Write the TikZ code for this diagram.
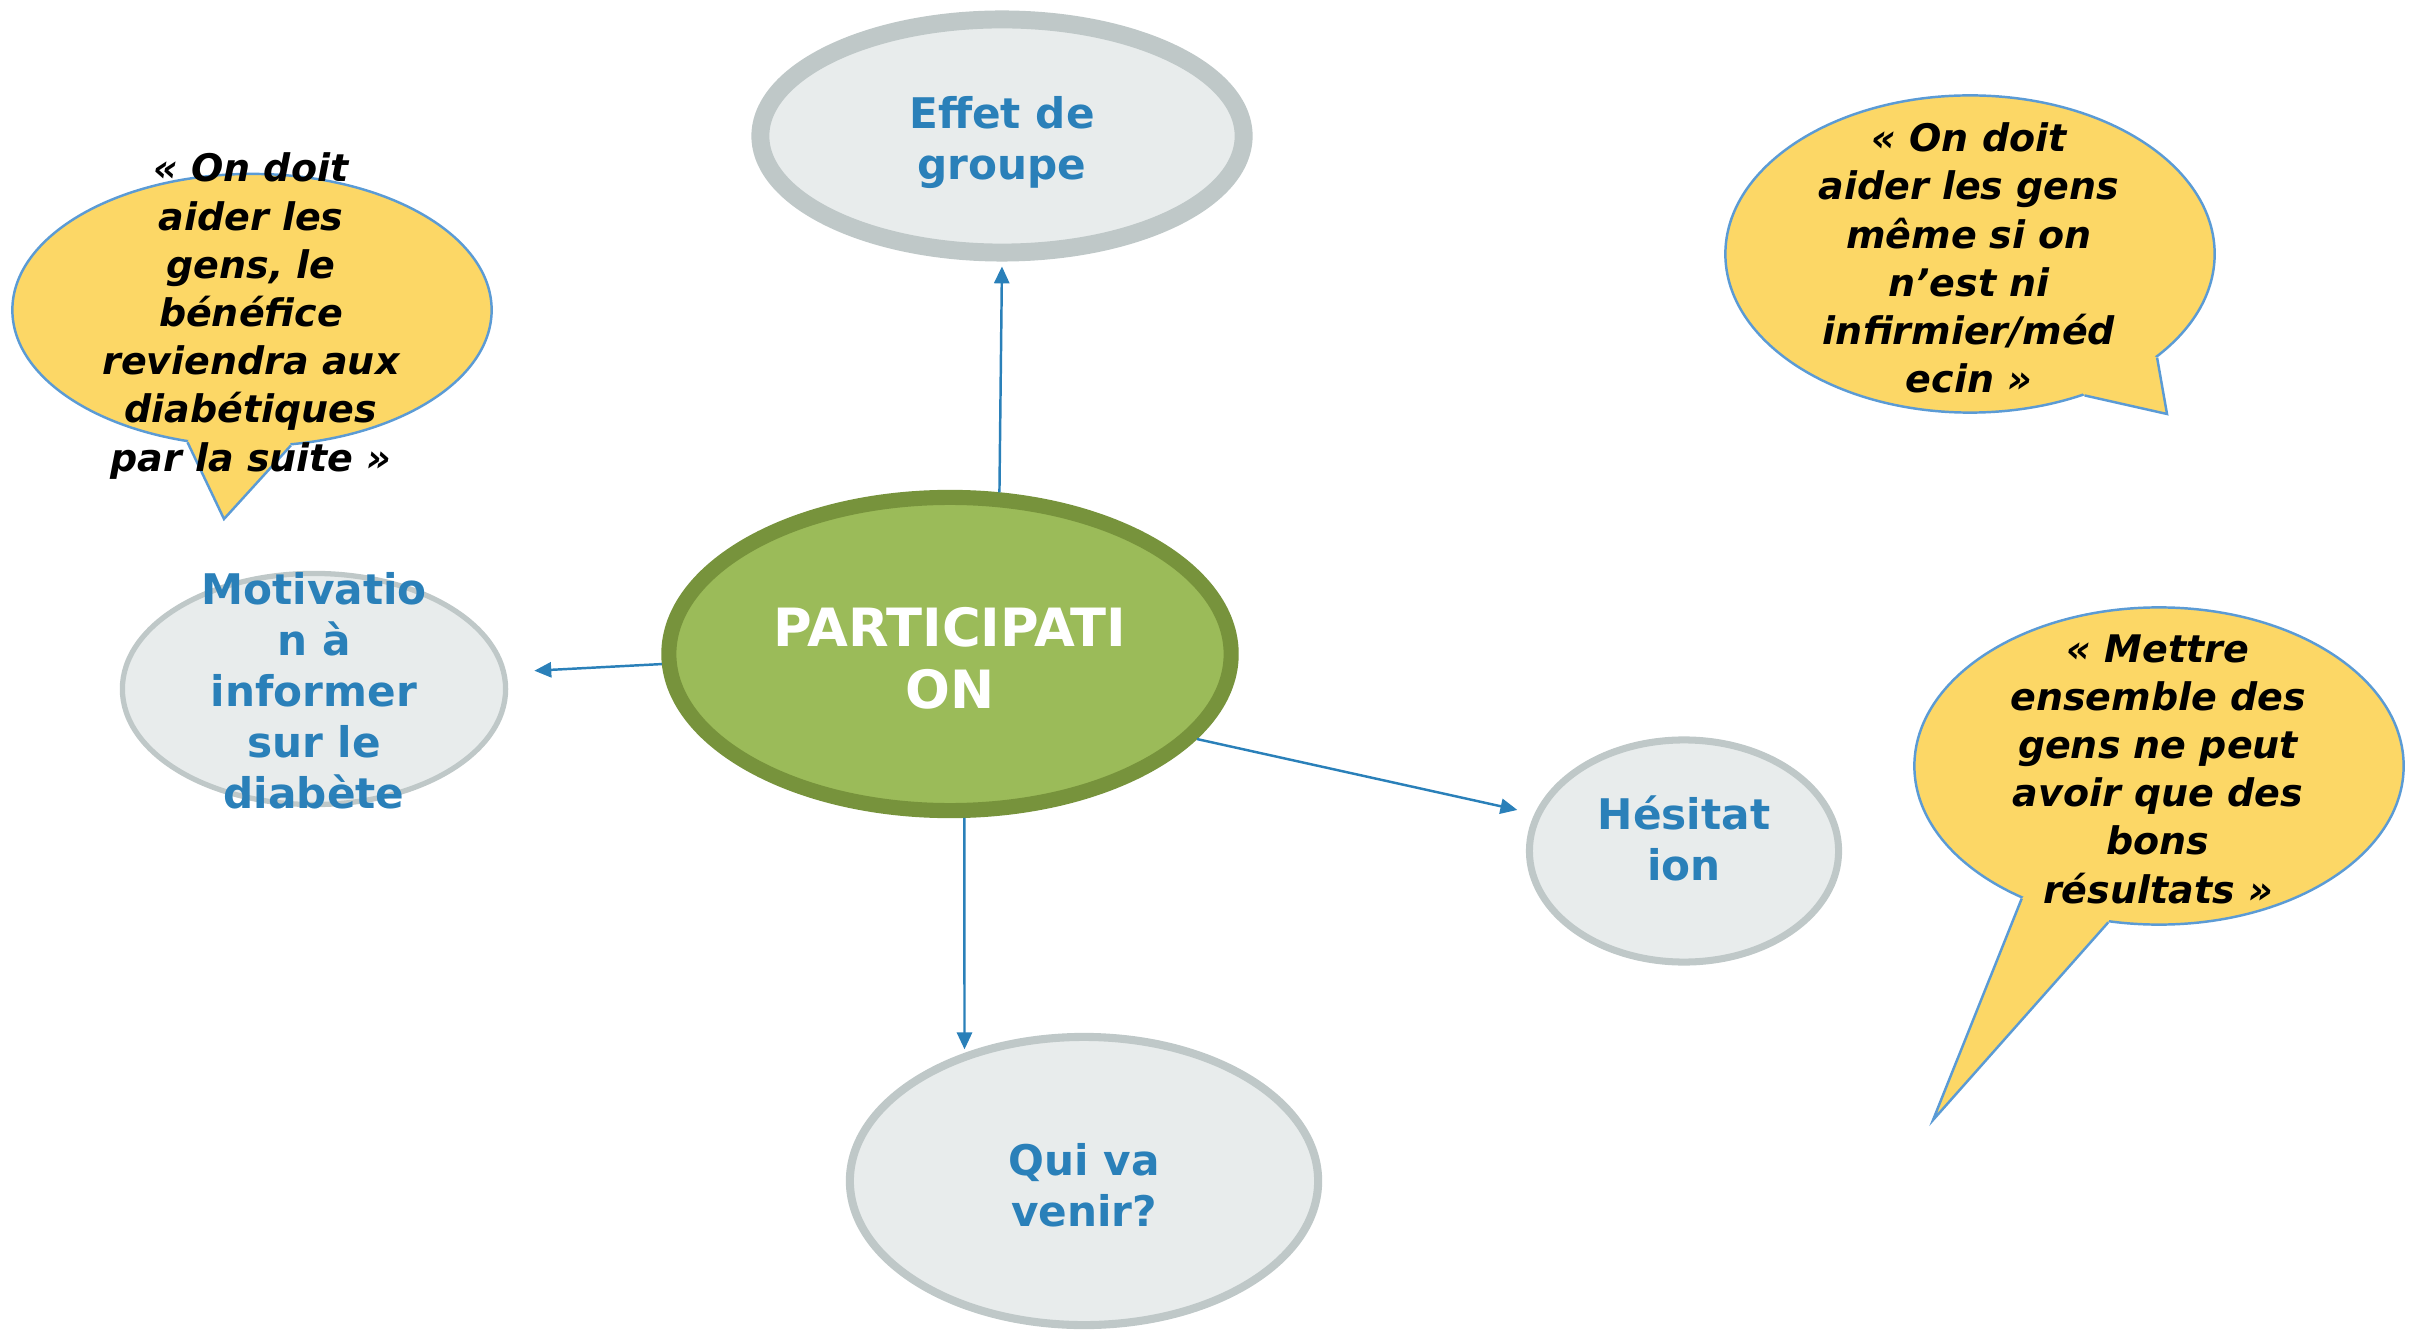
\documentclass[tikz,border=0pt]{standalone}
\usepackage{fontspec}
\setmainfont{DejaVu Sans}[BoldFont={DejaVu Sans Bold},ItalicFont={DejaVu Sans Oblique},BoldItalicFont={DejaVu Sans Bold Oblique}]
\usetikzlibrary{shapes.geometric,arrows.meta}

\definecolor{bordgris}{HTML}{BFC8C8}
\definecolor{fondgris}{HTML}{E8ECEC}
\definecolor{vertfonce}{HTML}{77933C}
\definecolor{vertclair}{HTML}{9BBB59}
\definecolor{bleutexte}{HTML}{2A80B9}
\definecolor{jaune}{HTML}{FCD766}
\definecolor{bleubord}{HTML}{5B9BD5}

\tikzstyle{idee}=[ellipse,draw=bordgris,fill=fondgris,inner sep=0pt]
\tikzstyle{noyau}=[ellipse,draw=vertfonce,fill=vertclair,line width=4.3pt,inner sep=0pt]
\tikzstyle{bulle}=[ellipse,draw=bleubord,fill=jaune,line width=0.7pt,inner sep=0pt]
\tikzstyle{etiquette}=[align=center,text=bleutexte,font=\bfseries\fontsize{12}{14.5}\selectfont]
\tikzstyle{citation}=[align=center,font=\bfseries\itshape\fontsize{10.8}{13.7}\selectfont]
\tikzstyle{lien}=[draw=bleutexte,line width=0.7pt,-{Triangle[length=4.8pt,width=4.3pt]}]

\begin{document}
\begin{tikzpicture}[x=0.01cm,y=-0.01cm]
	\useasboundingbox (0,0) rectangle (2425,1331);
	%Bulles
	\node[bulle,minimum width=4.79cm,minimum height=2.72cm] (bulleG) at (252,310) {};
	\node[bulle,minimum width=4.89cm,minimum height=3.17cm] (bulleH) at (1970,254) {};
	\node[bulle,minimum width=4.89cm,minimum height=3.17cm] (bulleB) at (2159,766) {};
	\coordinate (pointeG) at (224,519);
	\coordinate (pointeH) at (2167,414);
	\coordinate (pointeB) at (1933,1120);
	\foreach \b/\p/\a/\c in {bulleG/pointeG/244/286, bulleH/pointeH/309/331, bulleB/pointeB/224/252}
	{
		\fill[jaune] (\b.\a) -- (\p) -- (\b.\c) -- (\b.center) -- cycle;
		\draw[bleubord,line width=0.7pt] (\b.\a) -- (\p) -- (\b.\c);
	}
	%Idees
	\node[idee,line width=5.1pt,minimum width=4.83cm,minimum height=2.33cm] (effet) at (1002,136) {};
	\node[idee,line width=1.5pt,minimum width=3.83cm,minimum height=2.31cm] (mot) at (314,689) {};
	\node[idee,line width=2pt,minimum width=3.09cm,minimum height=2.22cm] (hes) at (1684,851) {};
	\node[idee,line width=2.3pt,minimum width=4.68cm,minimum height=2.88cm] (qui) at (1084,1181) {};
	%Centre
	\node[noyau,minimum width=5.62cm,minimum height=3.13cm] (part) at (950,654) {};
	%Liens
	\foreach \de/\vers/\ecart in {part.73/effet.south/1.4pt, part.182/mot.5/8pt, part.-19/hes.166/5pt, part.-85/qui.133/1pt}
		\draw[lien,shorten >=\ecart] (\de) -- (\vers);
	%Textes
	\node[etiquette] (effetT) at (1002,143) {Effet de\\groupe};
	\node[etiquette] (motT) at (314,691) {Motivatio\\n à\\informer\\sur le\\diabète};
	\node[etiquette] (hesT) at (1684,838) {Hésitat\\ion};
	\node[etiquette] (quiT) at (1084,1185) {Qui va\\venir?};
	\node[align=center,text=white,font=\bfseries\fontsize{15}{17.6}\selectfont] (partT) at (950,658) {PARTICIPATI\\ON};
	\node[citation] (citG) at (251,316) {« On doit\\aider les\\gens, le\\bénéfice\\reviendra aux\\diabétiques\\par la suite »};
	\node[citation] (citH) at (1969,258) {« On doit\\aider les gens\\même si on\\n’est ni\\infirmier/méd\\ecin »};
	\node[citation] (citB) at (2158,769) {« Mettre\\ensemble des\\gens ne peut\\avoir que des\\bons\\résultats »};
\end{tikzpicture}
\end{document}
